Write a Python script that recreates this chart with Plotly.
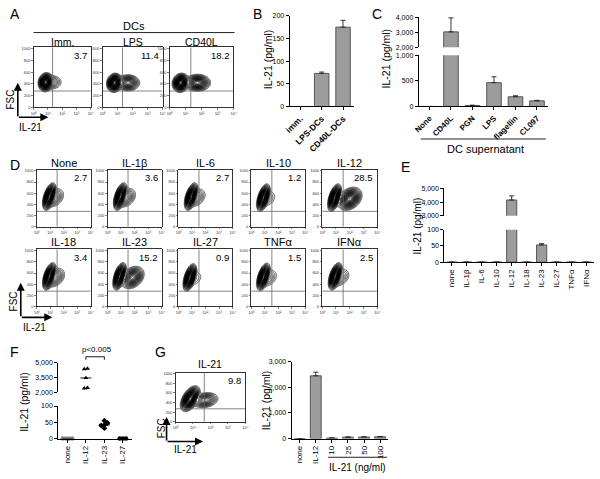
import numpy as np
import plotly.graph_objects as go

W, H = 600, 479
FONT = "Liberation Sans, Arial, Helvetica, sans-serif"

# ---------------- data ----------------
A_titles = ["Imm.", "LPS", "CD40L"]
A_pct = ["3.7", "11.4", "18.2"]
A_core_x = [0.85, 0.8, 0.7]
A_core_y = [430, 420, 420]
A_tail_x = [1.3, 1.7, 1.75]
A_tail_w = [0.08, 0.30, 0.45]

B_cats = ["imm.", "LPS-DCs", "CD40L-DCs"]
B_vals = [0, 73, 175]
B_err = [0, 3, 15]

C_cats = ["None", "CD40L", "PGN", "LPS", "flagellin", "CL097"]
C_vals = [0, 3050, 20, 465, 190, 110]
C_err = [0, 950, 5, 115, 20, 10]

D_titles = ["None", "IL-1β", "IL-6", "IL-10", "IL-12", "IL-18", "IL-23", "IL-27", "TNFα", "IFNα"]
D_pct = ["2.7", "3.6", "2.7", "1.2", "28.5", "3.4", "15.2", "0.9", "1.5", "2.5"]
D_core_x = [0.95, 0.95, 0.95, 0.9, 0.9, 0.95, 0.9, 0.85, 0.9, 0.95]
D_core_y = [540, 540, 540, 520, 520, 540, 540, 520, 530, 540]
D_tail_x = [1.3, 1.35, 1.3, 1.2, 2.0, 1.35, 1.85, 1.2, 1.25, 1.3]
D_tail_w = [0.10, 0.12, 0.08, 0.03, 0.55, 0.12, 0.40, 0.02, 0.05, 0.06]

E_cats = ["none", "IL-1β", "IL-6", "IL-10", "IL-12", "IL-18", "IL-23", "IL-27", "TNFα", "IFNα"]
E_vals = [0, 0, 0, 0, 4150, 0, 53, 0, 0, 0]
E_err = [0, 0, 0, 0, 300, 0, 4, 0, 0, 0]

F_groups = ["none", "IL-12", "IL-23", "IL-27"]
F_none = [0, 0, 0, 0]
F_il12 = [4400, 4350, 3450, 2400, 2450]
F_il23 = [55, 48, 42, 40, 32]
F_il27 = [0, 0, 0]
F_pvalue = "p<0.005"

G_flow_title = "IL-21"
G_pct = "9.8"
G_core_x, G_core_y = 0.85, 480
G_tail_x, G_tail_w = 1.7, 0.2
G_cats = ["none", "IL-12", "10", "25", "50", "100"]
G_vals = [0, 2450, 20, 55, 60, 70]
G_err = [0, 140, 3, 5, 5, 6]

# ---------------- helpers ----------------
layout = dict(width=W, height=H, margin=dict(l=0, r=0, t=0, b=0),
              paper_bgcolor="white", plot_bgcolor="rgba(0,0,0,0)",
              showlegend=False, font=dict(family=FONT, color="black"))
traces, annotations, shapes = [], [], []
counter = [0]


def P(px, py):
    return px / W, 1 - py / H


def axes(x0, x1, y0, y1, xa, ya):
    counter[0] += 1
    k = counter[0]
    s = "" if k == 1 else str(k)
    layout["xaxis" + s] = dict(domain=[x0 / W, x1 / W], anchor="y" + s, **xa)
    layout["yaxis" + s] = dict(domain=[1 - y1 / H, 1 - y0 / H], anchor="x" + s, **ya)
    return "x" + s, "y" + s


def ann(text, px, py, size, xanchor="center", yanchor="middle", angle=0):
    x, y = P(px, py)
    annotations.append(dict(text=text, x=x, y=y, xref="paper", yref="paper",
                            showarrow=False, xanchor=xanchor, yanchor=yanchor,
                            textangle=angle, font=dict(size=size, family=FONT, color="black")))


def hline(px0, px1, py, width=1, color="#222"):
    x0, y = P(px0, py)
    x1, _ = P(px1, py)
    shapes.append(dict(type="line", xref="paper", yref="paper", x0=x0, x1=x1, y0=y, y1=y,
                       line=dict(color=color, width=width)))


def lin_axis(**kw):
    d = dict(showline=True, linecolor="black", linewidth=1, ticks="outside", ticklen=3,
             tickwidth=1, tickcolor="black", showgrid=False, zeroline=False,
             tickfont=dict(size=7, family=FONT, color="black"), fixedrange=True,
             ticklabeloverflow="allow")
    d.update(kw)
    return d


def hidden_x(n):
    return dict(range=[-0.5, n - 0.5], showline=False, showticklabels=False, ticks="",
                showgrid=False, zeroline=False, fixedrange=True)


FX = np.linspace(0, 4, 201)
FY = np.linspace(0, 1024, 201)
GX, GY = np.meshgrid(FX, FY)
DEC = ["10⁰", "10¹", "10²", "10³", "10⁴"]


def flow_panel(box, comps, gate, title, pct, title_y, title_size=10.5):
    x0, x1, y0, y1 = box
    tf = dict(size=4, family=FONT, color="#333")
    xa = dict(range=[0, 4], tickvals=[0, 1, 2, 3, 4], ticktext=DEC, showline=True, mirror=True,
              linecolor="black", linewidth=0.8, ticks="outside", ticklen=1.5, tickwidth=0.6,
              tickcolor="#333", tickfont=tf, showgrid=False, zeroline=False, fixedrange=True)
    ya = dict(range=[0, 1024], tickvals=[0, 200, 400, 600, 800, 1000],
              ticktext=["0", "200", "400", "600", "800", "1000"], showline=True, mirror=True,
              linecolor="black", linewidth=0.8, ticks="outside", ticklen=1.5, tickwidth=0.6,
              tickcolor="#333", tickfont=tf, showgrid=False, zeroline=False, fixedrange=True)
    xr, yr = axes(x0, x1, y0, y1, xa, ya)
    Z = np.zeros_like(GX)
    for cx, cy, sx, sy, rho, w in comps:
        dx = (GX - cx) / sx
        dy = (GY - cy) / sy
        Z += w * np.exp(-(dx ** 2 - 2 * rho * dx * dy + dy ** 2) / (2 * (1 - rho ** 2)))
    Z = np.sqrt(Z / Z.max())
    traces.append(go.Contour(x=FX, y=FY, z=Z, xaxis=xr, yaxis=yr, showscale=False,
                             colorscale=[[0, "#000"], [1, "#000"]],
                             contours=dict(coloring="lines", start=0.08, end=0.98, size=0.03),
                             line=dict(width=0.65, smoothing=1), hoverinfo="skip"))
    gx, gy = gate
    shapes.append(dict(type="line", xref=xr, yref=yr, x0=gx, x1=gx, y0=0, y1=1024,
                       line=dict(color="#666", width=0.8)))
    shapes.append(dict(type="line", xref=xr, yref=yr, x0=0, x1=4, y0=gy, y1=gy,
                       line=dict(color="#666", width=0.8)))
    ann(title, (x0 + x1) / 2, title_y, title_size)
    ann(pct, x1 - 2, y0 + 8, 9.5, xanchor="right")


def bar_trace(xr, yr, vals, errs):
    n = len(vals)
    return go.Bar(x=list(range(n)), y=vals, width=0.68, xaxis=xr, yaxis=yr,
                  marker=dict(color="#9c9c9c", line=dict(color="#3a3a3a", width=0.8)),
                  error_y=dict(type="data", symmetric=False, array=errs, arrayminus=[0] * n,
                               color="#222", thickness=0.9, width=2.5),
                  hoverinfo="skip")


def fsc_arrows(xc, yc, up, right, fsc_xy, il_xy):
    hx, hy = P(xc, yc - up)
    annotations.append(dict(x=hx, y=hy, xref="paper", yref="paper", text="", showarrow=True,
                            ax=0, ay=up, arrowhead=2, arrowsize=1, arrowwidth=1.6,
                            arrowcolor="black", standoff=0, startstandoff=0))
    hx, hy = P(xc + right, yc)
    annotations.append(dict(x=hx, y=hy, xref="paper", yref="paper", text="", showarrow=True,
                            ax=-right, ay=0, arrowhead=2, arrowsize=1, arrowwidth=1.6,
                            arrowcolor="black", standoff=0, startstandoff=0))
    ann("FSC", fsc_xy[0], fsc_xy[1], 10, angle=-90)
    ann("IL-21", il_xy[0], il_xy[1], 10)


def fmt(v):
    return f"{v:,}"


# ---------------- panel A ----------------
ann("A", 2, 10, 14, xanchor="left")
ann("DCs", 130, 22, 11)
hline(28, 232, 29)
A_boxes = [(28, 86), (98, 159), (166, 231)]
for i, (bx0, bx1) in enumerate(A_boxes):
    comps = [(A_core_x[i], A_core_y[i], 0.17, 52, 0.1, 1.0),
             (A_tail_x[i], A_core_y[i], 0.28, 50, 0.0, A_tail_w[i])]
    flow_panel((bx0, bx1, 44, 105), comps, (1.33, 280), A_titles[i], A_pct[i], 39, 10.5)
fsc_arrows(12, 115, 35, 31, (5, 97), (25, 125))

# ---------------- panel B ----------------
ann("B", 249, 10, 14, xanchor="left")
xr, yr = axes(288, 353, 12, 104,
              lin_axis(range=[-0.5, 2.5], tickvals=[0, 1, 2],
                       ticktext=[f"<b>{c}</b>" for c in B_cats], tickangle=-45,
                       tickfont=dict(size=8.5, family=FONT, color="black")),
              lin_axis(range=[0, 200], tickvals=[0, 50, 100, 150, 200],
                       ticktext=[fmt(v) for v in [0, 50, 100, 150, 200]]))
traces.append(bar_trace(xr, yr, B_vals, B_err))
ann("IL-21 (pg/ml)", 266, 56, 10.5, angle=-90)

# ---------------- panel C ----------------
ann("C", 370, 10, 14, xanchor="left")
nC = len(C_cats)
xr, yr = axes(419, 550, 13.3, 44, hidden_x(nC),
              lin_axis(range=[2000, 4050], tickvals=[2000, 3000, 4000],
                       ticktext=[fmt(v) for v in [2000, 3000, 4000]]))
traces.append(bar_trace(xr, yr, C_vals, C_err))
xr, yr = axes(419, 550, 52, 104,
              lin_axis(range=[-0.5, nC - 0.5], tickvals=list(range(nC)),
                       ticktext=[f"<b>{c}</b>" for c in C_cats], tickangle=-45,
                       tickfont=dict(size=8, family=FONT, color="black")),
              lin_axis(range=[0, 1000], tickvals=[0, 500, 1000],
                       ticktext=[fmt(v) for v in [0, 500, 1000]]))
traces.append(bar_trace(xr, yr, C_vals, C_err))
ann("IL-21 (pg/ml)", 386, 55, 10.5, angle=-90)
hline(421, 548, 137)
ann("DC supernatant", 487, 147, 11)

# ---------------- panel D ----------------
ann("D", 2, 163, 14, xanchor="left")
D_cols = [(31, 86), (103, 158), (175, 230), (249, 304), (321, 377)]
D_rows = [(168, 226), (249, 307)]
for i in range(10):
    r, c = divmod(i, 5)
    bx0, bx1 = D_cols[c]
    by0, by1 = D_rows[r]
    comps = [(D_core_x[i], D_core_y[i], 0.16, 78, 0.5, 1.0),
             (D_tail_x[i], D_core_y[i] - 20, 0.3, 70, 0.3, D_tail_w[i])]
    flow_panel((bx0, bx1, by0, by1), comps, (1.52, 275), D_titles[i], D_pct[i], by0 - 7, 11)
fsc_arrows(15, 318, 35, 32, (8, 302), (29, 328))

# ---------------- panel E ----------------
ann("E", 399, 165, 14, xanchor="left")
nE = len(E_cats)
xr, yr = axes(445, 597, 187, 215, hidden_x(nE),
              lin_axis(range=[3000, 5000], tickvals=[3000, 4000, 5000],
                       ticktext=[fmt(v) for v in [3000, 4000, 5000]]))
traces.append(bar_trace(xr, yr, E_vals, E_err))
xr, yr = axes(445, 597, 229, 262,
              lin_axis(range=[-0.5, nE - 0.5], tickvals=list(range(nE)), ticktext=E_cats,
                       tickangle=-90, tickfont=dict(size=8, family=FONT, color="black")),
              lin_axis(range=[0, 100], tickvals=[0, 50, 100], ticktext=["0", "50", "100"]))
traces.append(bar_trace(xr, yr, E_vals, E_err))
ann("IL-21 (pg/ml)", 418, 225, 10, angle=-90)

# ---------------- panel F ----------------
ann("F", 2, 353, 14, xanchor="left")
nF = len(F_groups)
F_up = (2000, 5000, 364, 394)
F_lo = (0, 100, 408, 441)
xu, yu = axes(53, 128, F_up[2], F_up[3], hidden_x(nF),
              lin_axis(range=[F_up[0], F_up[1]], tickvals=[2000, 3500, 5000],
                       ticktext=[fmt(v) for v in [2000, 3500, 5000]]))
xl, yl = axes(53, 128, F_lo[2], F_lo[3],
              lin_axis(range=[-0.5, nF - 0.5], tickvals=list(range(nF)), ticktext=F_groups,
                       tickangle=-90, tickfont=dict(size=8, family=FONT, color="black")),
              lin_axis(range=[F_lo[0], F_lo[1]], tickvals=[0, 50, 100], ticktext=["0", "50", "100"]))


def to_px(v):
    if v >= F_up[0]:
        return F_up[3] - (v - F_up[0]) / (F_up[1] - F_up[0]) * (F_up[3] - F_up[2])
    return F_lo[3] - (v - F_lo[0]) / (F_lo[1] - F_lo[0]) * (F_lo[3] - F_lo[2])


def swarm(vals, gap=2.2, step=0.17):
    vals = np.asarray(vals, dtype=float)
    order = np.argsort(vals)
    offs = np.zeros(len(vals))
    clusters, cur = [], [order[0]]
    for i in order[1:]:
        if abs(to_px(vals[i]) - to_px(vals[cur[-1]])) < gap:
            cur.append(i)
        else:
            clusters.append(cur)
            cur = [i]
    clusters.append(cur)
    for cl in clusters:
        m = len(cl)
        for j, i in enumerate(cl):
            offs[i] = (j - (m - 1) / 2) * step
    return offs


F_sets = [F_none, F_il12, F_il23, F_il27]
F_sym = ["circle", "triangle-up", "diamond", "circle"]
F_col = ["#8a8a8a", "black", "black", "black"]
for g, vals in enumerate(F_sets):
    vals = np.asarray(vals, dtype=float)
    xs = g + swarm(vals)
    med = float(np.median(vals))
    for (lo, hi, _, _), (xa_, ya_) in [(F_up, (xu, yu)), (F_lo, (xl, yl))]:
        m = (vals >= lo) & (vals <= hi)
        if m.any():
            traces.append(go.Scatter(x=xs[m], y=vals[m], mode="markers", xaxis=xa_, yaxis=ya_,
                                     cliponaxis=False, hoverinfo="skip",
                                     marker=dict(symbol=F_sym[g], size=4.5, color=F_col[g])))
        if lo <= med <= hi:
            traces.append(go.Scatter(x=[g - 0.3, g + 0.3], y=[med, med], mode="lines",
                                     xaxis=xa_, yaxis=ya_, cliponaxis=False, hoverinfo="skip",
                                     line=dict(color="black", width=0.9)))
ann("IL-21 (pg/ml)", 18, 404, 10.5, angle=-90)
for (a, b, ya0, ya1) in [(1, 2, 358, 358), (1, 1, 358, 361), (2, 2, 358, 361)]:
    shapes.append(dict(type="line", xref=xu, yref="paper", x0=a, x1=b,
                       y0=1 - ya0 / H, y1=1 - ya1 / H, line=dict(color="black", width=0.9)))
ann(F_pvalue, 92, 351, 8)

# ---------------- panel G ----------------
ann("G", 149, 353, 14, xanchor="left")
flow_panel((172, 243, 374, 424),
           [(G_core_x, G_core_y, 0.18, 85, 0.5, 1.0), (G_tail_x, 450, 0.28, 60, 0.2, G_tail_w)],
           (1.65, 270), G_flow_title, G_pct, 365, 10.5)
fsc_arrows(163, 444, 25, 37, (158, 431), (182, 452))
nG = len(G_cats)
xr, yr = axes(290, 388, 363, 441,
              lin_axis(range=[-0.5, nG - 0.5], tickvals=list(range(nG)), ticktext=G_cats,
                       tickangle=-90, tickfont=dict(size=8, family=FONT, color="black")),
              lin_axis(range=[0, 3000], tickvals=[0, 1000, 2000, 3000],
                       ticktext=[fmt(v) for v in [0, 1000, 2000, 3000]]))
traces.append(bar_trace(xr, yr, G_vals, G_err))
ann("IL-21 (pg/ml)", 264, 402, 10.5, angle=-90)
hline(327, 387, 460)
ann("IL-21 (ng/ml)", 357, 470, 10)

layout["annotations"] = annotations
layout["shapes"] = shapes
fig = go.Figure(data=traces, layout=layout)
fig.write_html("out.html", config={"displayModeBar": False, "staticPlot": True},
               post_script="document.body.style.margin='0';document.body.style.overflow='hidden';")
